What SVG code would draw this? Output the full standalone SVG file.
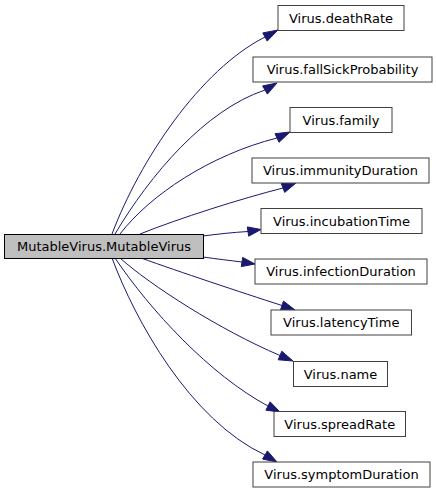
<svg xmlns="http://www.w3.org/2000/svg" width="436" height="493" viewBox="0 0 436 493">
<style>
.n rect{fill:#ffffff;stroke:#404040;stroke-width:1}
.n.root rect{fill:#bfbfbf;stroke:#000000}
.n text{font-family:"DejaVu Sans",sans-serif;font-size:13px;fill:#000;text-anchor:middle}
.e path{fill:none;stroke:#191970;stroke-width:1}
.e polygon{fill:#191970;stroke:#191970;stroke-width:1}
</style>
<rect width="436" height="493" fill="#ffffff"/>
<g id="edges" class="e">
<path d="M112,234 C140,160 200,70 265,37"/><polygon points="278,30 267.2,41.1 262.8,32.9"/>
<path d="M115,234 C150,175 205,110 265,90"/><polygon points="277,83 267.4,94.1 262.6,85.9"/>
<path d="M120,234 C150,195 210,155 277,138"/><polygon points="290,132 279,142.3 275,133.7"/>
<path d="M140,234 C180,218 240,199 283,188"/><polygon points="296,183 284.7,192.4 281.3,183.6"/>
<path d="M203,236 C218,234 232,232.5 248,231.5"/><polygon points="261,229.5 248.7,236.2 247.3,226.9"/>
<path d="M203,257 C217,259 230,260.5 242,262"/><polygon points="255,264 241.3,266.6 242.7,257.4"/>
<path d="M141,258 C180,272 240,292 282,305.5"/><polygon points="295,310 280.5,309.9 283.5,301.1"/>
<path d="M120,258 C150,285 220,330 280,355.5"/><polygon points="293,361 278.2,359.8 281.8,351.2"/>
<path d="M115,258 C150,310 210,375 268,406"/><polygon points="280,412 265.9,410.2 270.1,401.8"/>
<path d="M112,258 C135,320 190,420 265,455"/><polygon points="277,462 262.6,459.1 267.4,450.9"/>
</g>
<g id="node_main" class="n root"><rect x="4.5" y="234.5" width="199" height="24"/><text x="104" y="251">MutableVirus.MutableVirus</text></g>
<g id="node_deathRate" class="n"><rect x="278" y="5.5" width="126" height="25"/><text x="341" y="22.5">Virus.deathRate</text></g>
<g id="node_fallSickProbability" class="n"><rect x="253" y="57" width="179" height="25"/><text x="342.5" y="74">Virus.fallSickProbability</text></g>
<g id="node_family" class="n"><rect x="290" y="107.5" width="102" height="25"/><text x="341" y="124.5">Virus.family</text></g>
<g id="node_immunityDuration" class="n"><rect x="252" y="158" width="177" height="25"/><text x="340.5" y="175">Virus.immunityDuration</text></g>
<g id="node_incubationTime" class="n"><rect x="261" y="208.5" width="161" height="25"/><text x="341.5" y="225.5">Virus.incubationTime</text></g>
<g id="node_infectionDuration" class="n"><rect x="255" y="259" width="172" height="25"/><text x="341" y="276">Virus.infectionDuration</text></g>
<g id="node_latencyTime" class="n"><rect x="271" y="310" width="140.5" height="25"/><text x="341.25" y="327">Virus.latencyTime</text></g>
<g id="node_name" class="n"><rect x="293.5" y="361.5" width="94" height="25"/><text x="340.5" y="378.5">Virus.name</text></g>
<g id="node_spreadRate" class="n"><rect x="274" y="411.5" width="131.5" height="25"/><text x="339.75" y="428.5">Virus.spreadRate</text></g>
<g id="node_symptomDuration" class="n"><rect x="253" y="462" width="177" height="25"/><text x="341.5" y="479">Virus.symptomDuration</text></g>
</svg>
